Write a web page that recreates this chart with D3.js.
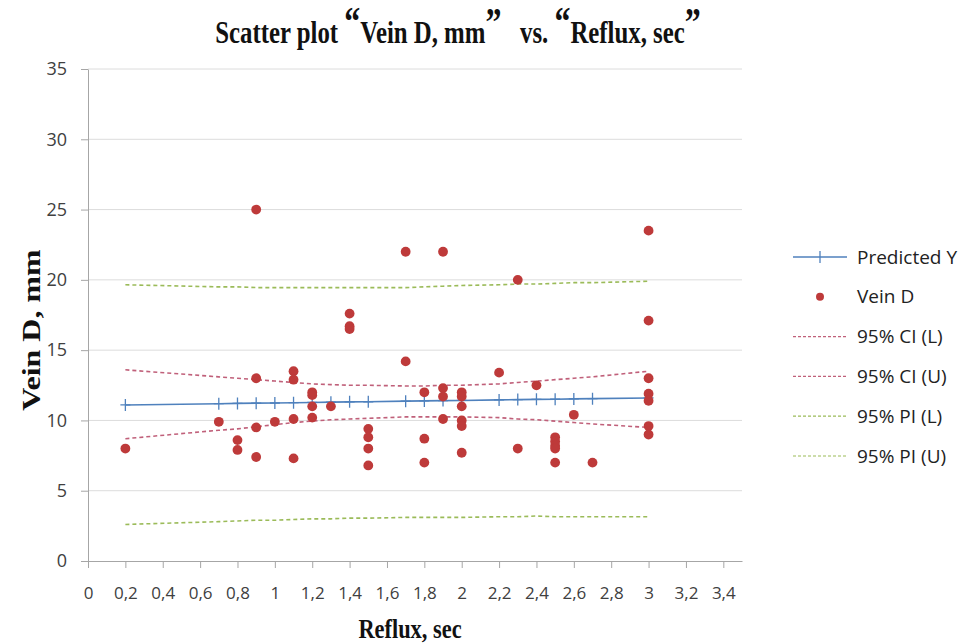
<!DOCTYPE html>
<html>
<head>
<meta charset="utf-8">
<script src="https://cdn.jsdelivr.net/npm/d3@7"></script>
<style>
  body { margin: 0; background: #fff; }
  text { font-family: "Open Sans", sans-serif; }
</style>
</head>
<body>
<div class="canvas"></div>
<script>
// scatter data (Reflux, sec -> Vein D, mm)
const refluxX = [0.2, 0.7, 0.8, 0.8, 0.9, 0.9, 0.9, 0.9, 1.0, 1.1, 1.1, 1.1, 1.1,
  1.2, 1.2, 1.2, 1.2, 1.3, 1.4, 1.4, 1.4, 1.5, 1.5, 1.5, 1.5, 1.7, 1.7,
  1.8, 1.8, 1.8, 1.9, 1.9, 1.9, 1.9, 2.0, 2.0, 2.0, 2.0, 2.0, 2.0,
  2.2, 2.3, 2.3, 2.4, 2.5, 2.5, 2.5, 2.5, 2.5, 2.6, 2.7,
  3.0, 3.0, 3.0, 3.0, 3.0, 3.0, 3.0]
const veinD = [8.0, 9.9, 8.6, 7.9, 25.0, 13.0, 9.5, 7.4, 9.9, 13.5, 12.9, 10.1, 7.3,
  12.0, 11.8, 11.0, 10.2, 11.0, 17.6, 16.7, 16.5, 9.4, 8.8, 8.0, 6.8, 22.0, 14.2,
  12.0, 8.7, 7.0, 22.0, 12.3, 11.7, 10.1, 12.0, 11.7, 11.0, 10.0, 9.6, 7.7,
  13.4, 20.0, 8.0, 12.5, 8.8, 8.5, 8.2, 8.0, 7.0, 10.4, 7.0,
  23.5, 17.1, 13.0, 11.9, 11.4, 9.6, 9.0]

// fitted line and intervals, at the distinct x values
const fitX = [0.2, 0.7, 0.8, 0.9, 1.0, 1.1, 1.2, 1.3, 1.4, 1.5, 1.7, 1.8, 1.9, 2.0, 2.2, 2.3, 2.4, 2.5, 2.6, 2.7, 3.0]
const predY = [11.10, 11.19, 11.21, 11.23, 11.24, 11.26, 11.28, 11.30, 11.32, 11.33, 11.37, 11.39, 11.41, 11.42, 11.46, 11.48, 11.50, 11.51, 11.53, 11.55, 11.60]
const ciLow = [8.7, 9.3, 9.4, 9.55, 9.7, 9.85, 9.95, 10.05, 10.1, 10.15, 10.25, 10.25, 10.25, 10.25, 10.2, 10.1, 10.05, 9.95, 9.85, 9.75, 9.5]
const ciUp = [13.6, 13.1, 13.0, 12.9, 12.8, 12.7, 12.6, 12.55, 12.5, 12.5, 12.45, 12.45, 12.5, 12.5, 12.6, 12.7, 12.8, 12.9, 13.0, 13.1, 13.5]
const piLow = [2.6, 2.8, 2.85, 2.9, 2.9, 2.95, 3.0, 3.0, 3.05, 3.05, 3.1, 3.1, 3.1, 3.1, 3.15, 3.15, 3.2, 3.15, 3.15, 3.15, 3.15]
const piUp = [19.65, 19.5, 19.5, 19.45, 19.45, 19.45, 19.45, 19.45, 19.45, 19.45, 19.45, 19.5, 19.55, 19.6, 19.65, 19.7, 19.7, 19.75, 19.8, 19.8, 19.9]

const xTicks = [0, 0.2, 0.4, 0.6, 0.8, 1, 1.2, 1.4, 1.6, 1.8, 2, 2.2, 2.4, 2.6, 2.8, 3, 3.2, 3.4]
const yTicks = [0, 5, 10, 15, 20, 25, 30, 35]
const legendNames = ['Predicted Y', 'Vein D', '95% CI (L)', '95% CI (U)', '95% PI (L)', '95% PI (U)']

const blue = '#4f81bd', red = '#be3a3a', pink = '#c0607a', green = '#9bbb59'
const serif = '"Liberation Serif", "Times New Roman", serif'

const svg = d3.select('.canvas').append('svg')
    .attr('width', 959)
    .attr('height', 644)

//Margins
const margin = {top: 69, left: 88, bottom: 83}
const plotRight = 742

const x = d3.scaleLinear().domain([0, 3.5]).range([margin.left, plotRight])
const y = d3.scaleLinear().domain([0, 35]).range([644 - margin.bottom, margin.top])

// horizontal grid
svg.append('g')
    .selectAll('line')
    .data(yTicks.filter(d => d > 0))
    .enter().append('line')
    .attr('x1', margin.left).attr('x2', plotRight)
    .attr('y1', d => y(d)).attr('y2', d => y(d))
    .attr('stroke', '#dcdcdc').attr('stroke-width', 1)

// y axis
const yAxis = svg.append('g')
    .attr('transform', `translate(${margin.left}, 0)`)
    .call(d3.axisLeft(y).tickValues(yTicks).tickSize(7).tickPadding(14).tickSizeOuter(0))
yAxis.select('.domain').attr('stroke', '#a6a6a6')
yAxis.selectAll('.tick line').attr('stroke', '#a6a6a6')
yAxis.selectAll('text').attr('font-size', 18).attr('fill', '#404040')
    .style('font-family', '"Open Sans", sans-serif')

// x axis
const xAxis = svg.append('g')
    .attr('transform', `translate(0, ${y(0)})`)
    .call(d3.axisBottom(x).tickValues(xTicks).tickSize(7).tickPadding(19).tickSizeOuter(0)
        .tickFormat(d => String(d).replace('.', ',')))
xAxis.select('.domain').attr('stroke', '#a6a6a6')
xAxis.selectAll('.tick line').attr('stroke', '#a6a6a6')
xAxis.selectAll('text').attr('font-size', 17).attr('fill', '#404040')
    .style('font-family', '"Open Sans", sans-serif')

// interval curves
const curve = vals => d3.line()
    .x((d, i) => x(fitX[i]))
    .y(d => y(d))(vals)

const dashed = [
  {vals: ciLow, color: pink},
  {vals: ciUp, color: pink},
  {vals: piLow, color: green},
  {vals: piUp, color: green}
]
svg.append('g').selectAll('path')
    .data(dashed)
    .enter().append('path')
    .attr('d', d => curve(d.vals))
    .attr('fill', 'none')
    .attr('stroke', d => d.color)
    .attr('stroke-width', 1.6)
    .attr('stroke-dasharray', '4,3')

// predicted line with + markers
svg.append('path')
    .attr('d', curve(predY))
    .attr('fill', 'none')
    .attr('stroke', blue)
    .attr('stroke-width', 1.6)

svg.append('g').selectAll('path')
    .data(predY)
    .enter().append('path')
    .attr('d', (d, i) => {
      const cx = x(fitX[i]), cy = y(d)
      return `M${cx},${cy - 6}V${cy + 6}M${cx - 5},${cy}H${cx + 5}`
    })
    .attr('stroke', blue)
    .attr('stroke-width', 1.3)

// scatter points
svg.append('g').selectAll('circle')
    .data(veinD)
    .enter().append('circle')
    .attr('cx', (d, i) => x(refluxX[i]))
    .attr('cy', d => y(d))
    .attr('r', 4.9)
    .attr('fill', red)

// title (text squeezed horizontally like the source)
const title = svg.append('text')
    .attr('transform', 'translate(458, 43) scale(0.8, 1)')
    .attr('text-anchor', 'middle')
    .style('font-family', serif)
    .attr('font-weight', 'bold')
    .attr('font-size', 31)
    .attr('fill', '#111')
title.append('tspan').text('Scatter plot ')
title.append('tspan').text('“').attr('font-size', 40).attr('dy', -8)
title.append('tspan').text('Vein D, mm').attr('dy', 8)
title.append('tspan').text('”').attr('font-size', 40).attr('dy', -8)
title.append('tspan').text('   vs. ').attr('dy', 8).attr('xml:space', 'preserve')
title.append('tspan').text('“').attr('font-size', 40).attr('dy', -8)
title.append('tspan').text('Reflux, sec').attr('dy', 8)
title.append('tspan').text('”').attr('font-size', 40).attr('dy', -8)

// axis titles
svg.append('text')
    .attr('transform', 'translate(40, 330) rotate(-90) scale(1, 0.8)')
    .attr('text-anchor', 'middle')
    .style('font-family', serif)
    .attr('font-weight', 'bold').attr('font-size', 32).attr('fill', '#111')
    .text('Vein D, mm')

svg.append('text')
    .attr('transform', 'translate(410, 638) scale(0.8, 1)')
    .attr('text-anchor', 'middle')
    .style('font-family', serif)
    .attr('font-weight', 'bold').attr('font-size', 28).attr('fill', '#111')
    .text('Reflux, sec')

// legend
const legend = svg.append('g').attr('transform', 'translate(793, 257)')
const rows = legend.selectAll('g')
    .data(legendNames)
    .enter().append('g')
    .attr('transform', (d, i) => `translate(0, ${i * 39.8})`)

rows.each(function (d, i) {
  const g = d3.select(this)
  if (i === 0) {
    g.append('line').attr('x1', 0).attr('x2', 54).attr('stroke', blue).attr('stroke-width', 1.3)
    g.append('line').attr('x1', 27).attr('x2', 27).attr('y1', -6).attr('y2', 6).attr('stroke', blue).attr('stroke-width', 1.3)
  } else if (i === 1) {
    g.append('circle').attr('cx', 27).attr('r', 4).attr('fill', red)
  } else {
    g.append('line').attr('x1', 0).attr('x2', 54)
        .attr('stroke', i < 4 ? pink : green)
        .attr('stroke-width', 1.2)
        .attr('stroke-dasharray', '3,2')
  }
  g.append('text')
      .attr('x', 64).attr('dy', '0.35em')
      .attr('font-size', 19).attr('fill', '#222')
      .text(d)
})
</script>
</body>
</html>
